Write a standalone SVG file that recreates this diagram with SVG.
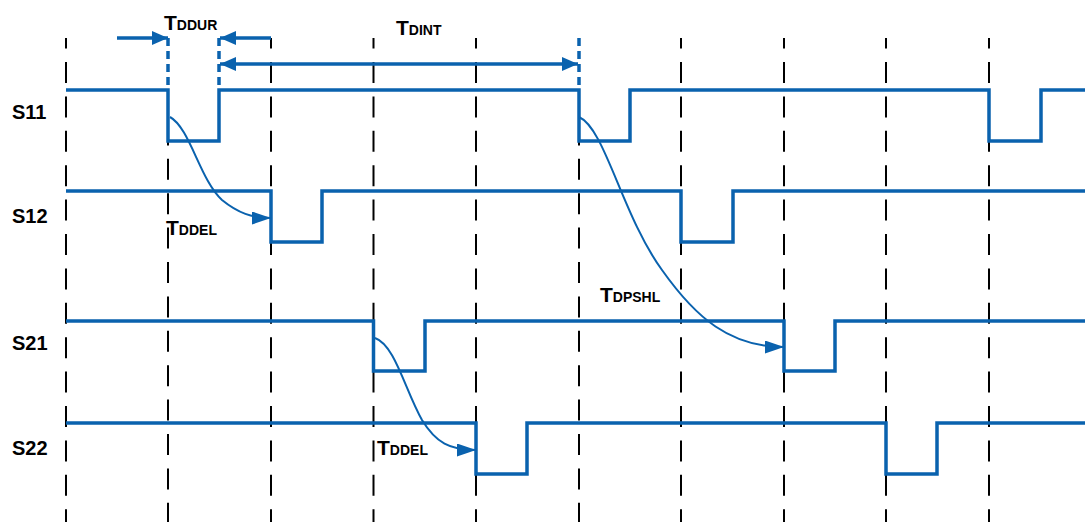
<svg xmlns="http://www.w3.org/2000/svg" width="1085" height="522" viewBox="0 0 1085 522">
<style>
.grid{stroke:#000;stroke-width:2;stroke-dasharray:21 13.4;fill:none}
.sig{stroke:#0A62AE;stroke-width:3.5;fill:none;stroke-linejoin:miter}
.bd{stroke:#0A62AE;stroke-width:3.5;stroke-dasharray:8 5;fill:none}
.dim{stroke:#0A62AE;stroke-width:3.5;fill:none}
.cur{stroke:#0A62AE;stroke-width:2;fill:none}
.lbl{font-family:"Liberation Sans",Arial,sans-serif;font-weight:bold;fill:#000}
.big{font-size:21px}
.sub{font-size:14px}
.sl{font-size:20px}
</style>
<defs>
<marker id="ah" viewBox="0 0 16 14" refX="16" refY="7" markerWidth="16" markerHeight="14" markerUnits="userSpaceOnUse" orient="auto-start-reverse">
<path d="M0,0 L16,7 L0,14 Z" fill="#0A62AE"/>
</marker>
<marker id="ac" viewBox="0 0 19 13" refX="19" refY="6.5" markerWidth="19" markerHeight="13" markerUnits="userSpaceOnUse" orient="auto">
<path d="M0,0 L19,6.5 L0,13 Z" fill="#0A62AE"/>
</marker>
</defs>
<g id="grid">
<line class="grid" x1="66" y1="38" x2="66" y2="522" stroke-dashoffset="10.4"/>
<line class="grid" x1="168" y1="90" x2="168" y2="522"/>
<line class="grid" x1="271" y1="38" x2="271" y2="522" stroke-dashoffset="10.4"/>
<line class="grid" x1="373.5" y1="38" x2="373.5" y2="522" stroke-dashoffset="10.4"/>
<line class="grid" x1="476" y1="38" x2="476" y2="522" stroke-dashoffset="10.4"/>
<line class="grid" x1="579" y1="90" x2="579" y2="522"/>
<line class="grid" x1="681" y1="38" x2="681" y2="522" stroke-dashoffset="10.4"/>
<line class="grid" x1="784" y1="38" x2="784" y2="522" stroke-dashoffset="10.4"/>
<line class="grid" x1="886" y1="38" x2="886" y2="522" stroke-dashoffset="10.4"/>
<line class="grid" x1="989" y1="38" x2="989" y2="522" stroke-dashoffset="10.4"/>
</g>
<g id="S11">
<text class="lbl sl" x="12" y="119">S11</text>
<polyline class="sig" points="66,90 168,90 168,141 219,141 219,90 579,90 579,141 630,141 630,90 989,90 989,141 1041,141 1041,90 1085,90"/>
</g>
<g id="S12">
<text class="lbl sl" x="12" y="223">S12</text>
<polyline class="sig" points="66,191 271,191 271,242 322,242 322,191 681,191 681,242 733,242 733,191 1085,191"/>
</g>
<g id="S21">
<text class="lbl sl" x="12" y="350">S21</text>
<polyline class="sig" points="66,321 373.5,321 373.5,371 425,371 425,321 784,321 784,371 835,371 835,321 1085,321"/>
</g>
<g id="S22">
<text class="lbl sl" x="12" y="455">S22</text>
<polyline class="sig" points="66,423 476,423 476,474 527,474 527,423 886,423 886,474 937,474 937,423 1085,423"/>
</g>
<g id="markers">
<line class="bd" x1="168" y1="38" x2="168" y2="90"/>
<line class="bd" x1="219" y1="38" x2="219" y2="90"/>
<line class="bd" x1="579" y1="38" x2="579" y2="90"/>
</g>
<g id="connectors">
<line class="dim" x1="117" y1="38" x2="168" y2="38" marker-end="url(#ah)"/>
<line class="dim" x1="271" y1="38" x2="220" y2="38" marker-end="url(#ah)"/>
<line class="dim" x1="220" y1="64" x2="578" y2="64" marker-start="url(#ah)" marker-end="url(#ah)"/>
<path class="cur" d="M170,117 C190,128 200,180 222,200 C238,213 252,218 271,218" marker-end="url(#ac)"/>
<path class="cur" d="M579,117 C605,128 622,215 662,270 C696,318 730,347 784,347" marker-end="url(#ac)"/>
<path class="cur" d="M375,338 C395,345 405,390 422,420 C436,443 450,450 476,450" marker-end="url(#ac)"/>
</g>
<g id="labels">
<text class="lbl" x="164" y="30"><tspan class="big">T</tspan><tspan class="sub">DDUR</tspan></text>
<text class="lbl" x="396" y="35"><tspan class="big">T</tspan><tspan class="sub">DINT</tspan></text>
<text class="lbl" x="166" y="235"><tspan class="big">T</tspan><tspan class="sub">DDEL</tspan></text>
<text class="lbl" x="377" y="455"><tspan class="big">T</tspan><tspan class="sub">DDEL</tspan></text>
<text class="lbl" x="600" y="302"><tspan class="big">T</tspan><tspan class="sub">DPSHL</tspan></text>
</g>
</svg>
